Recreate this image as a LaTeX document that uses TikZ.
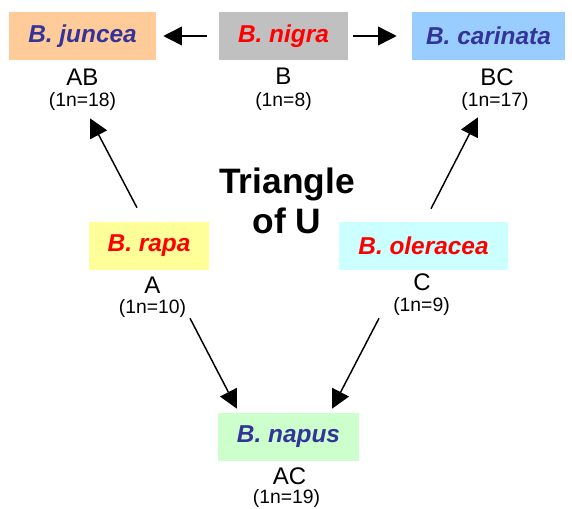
\documentclass[tikz,border=0pt]{standalone}
\usepackage{fontspec}
\setmainfont{Liberation Sans}
\usetikzlibrary{arrows.meta}
\definecolor{cjun}{HTML}{FFCC99}
\definecolor{cnig}{HTML}{C0C0C0}
\definecolor{ccar}{HTML}{99CCFF}
\definecolor{crap}{HTML}{FFFF99}
\definecolor{cole}{HTML}{CCFFFF}
\definecolor{cnap}{HTML}{CCFFCC}
\definecolor{tblue}{HTML}{333399}
\definecolor{tred}{HTML}{FF0000}
\begin{document}
\begin{tikzpicture}[x=0.75pt,y=-0.75pt,
  sp/.style={minimum height=36pt,inner sep=0pt,font=\fontsize{18.3}{20}\selectfont\bfseries\itshape},
  gen/.style={anchor=base,inner sep=0pt,font=\fontsize{18}{20}\selectfont},
  chr/.style={anchor=base,inner sep=0pt,font=\fontsize{14.5}{16}\selectfont},
  arr/.style={line width=1.1pt,-{Triangle[length=14pt,width=14pt]}}]
\useasboundingbox (0,0) rectangle (572,508);
% species boxes
\node[sp,fill=cjun,text=tblue,minimum width=110.25pt] (juncea) at (82.5,36) {B. juncea};
\node[sp,fill=cnig,text=tred,minimum width=96.75pt] (nigra) at (283.5,36) {B. nigra};
\node[sp,fill=ccar,text=tblue,minimum width=114.75pt] (carinata) at (488.5,36) {B. carinata};
\node[sp,fill=crap,text=tred,minimum width=90pt] (rapa) at (149,246) {B. rapa};
\node[sp,fill=cole,text=tred,minimum width=126.75pt] (oleracea) at (423.5,246) {B. oleracea};
\node[sp,fill=cnap,text=tblue,minimum width=105.75pt] (napus) at (288.5,437) {B. napus};
% genome labels
\node[gen] (gAB) at (82.5,85) {AB};
\node[chr] (nAB) at (82.5,106) {(1n=18)};
\node[gen] (gB) at (283.5,84) {B};
\node[chr] (nB) at (283.5,106) {(1n=8)};
\node[gen] (gBC) at (497,85) {BC};
\node[chr] (nBC) at (495,106) {(1n=17)};
\node[gen] (gA) at (152.5,293) {A};
\node[chr] (nA) at (152.5,313) {(1n=10)};
\node[gen] (gC) at (422,290) {C};
\node[chr] (nC) at (421.5,311) {(1n=9)};
\node[gen] (gAC) at (289.5,484) {AC};
\node[chr] (nAC) at (286.5,503) {(1n=19)};
% title
\node[anchor=base,inner sep=0pt,font=\fontsize{26.5}{30}\selectfont\bfseries] (t1) at (287,193) {Triangle};
\node[anchor=base,inner sep=0pt,font=\fontsize{26.5}{30}\selectfont\bfseries] (t2) at (287,233) {of U};
% arrows
\draw[arr] ([shift={(-12,0)}]nigra.west) -- ([shift={(7,0)}]juncea.east);
\draw[arr] ([shift={(5,0)}]nigra.east) -- ([shift={(-15,0)}]carinata.west);
\draw[arr] ([shift={(-12,-14)}]rapa.north) -- ([shift={(7.5,58)}]juncea.south);
\draw[arr] ([shift={(7.5,-13)}]oleracea.north) -- ([shift={(-10.5,57)}]carinata.south);
\draw[arr] ([shift={(41,48)}]rapa.south) -- ([shift={(-51.5,-4)}]napus.north);
\draw[arr] ([shift={(-44.5,48)}]oleracea.south) -- ([shift={(43.5,-4)}]napus.north);
\end{tikzpicture}
\end{document}
